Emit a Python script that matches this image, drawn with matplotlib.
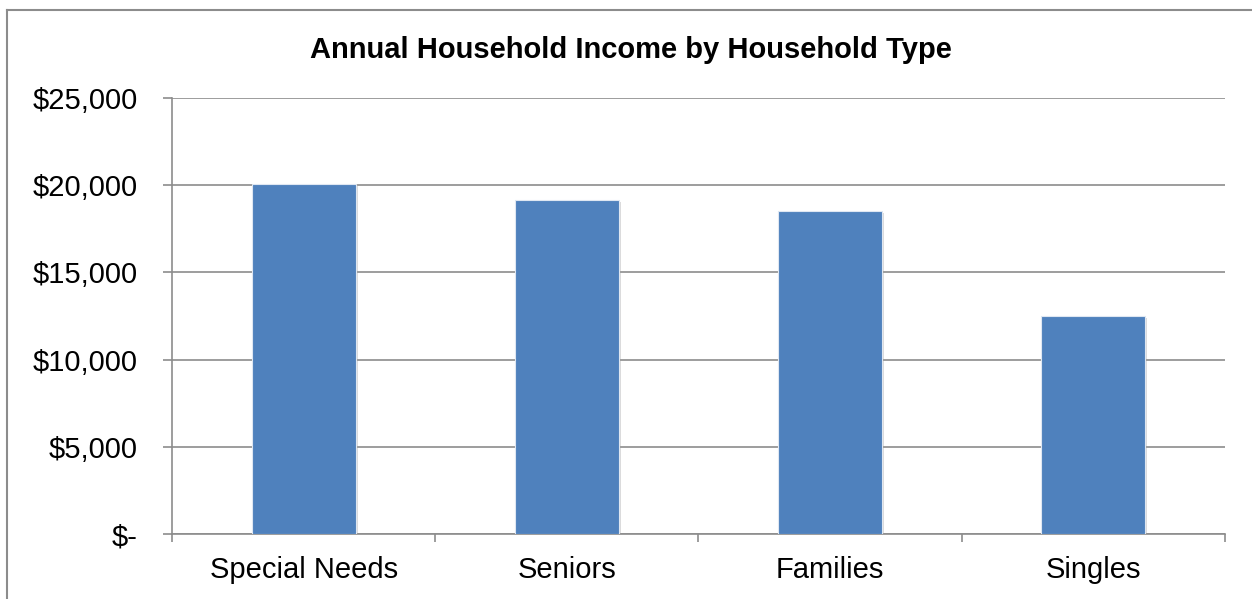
import matplotlib
matplotlib.use("Agg")
import matplotlib.pyplot as plt
import matplotlib.patheffects as pe
from matplotlib.lines import Line2D
from matplotlib.ticker import FuncFormatter
import numpy as np

categories = ["Special Needs", "Seniors", "Families", "Singles"]
income = [20050, 19150, 18520, 12500]
yticks = [0, 5000, 10000, 15000, 20000, 25000]

plt.rcParams['font.family'] = ['Liberation Sans', 'DejaVu Sans']

fig = plt.figure(figsize=(12.52, 5.99), dpi=100)
ax = fig.add_axes([0.1374, 0.1085, 0.9784 - 0.1374, 0.8364 - 0.1085])

x = np.arange(len(categories))
bars = ax.bar(x, income, width=0.395, color="#4F81BD", edgecolor="#dfe7f2",
              linewidth=0.8, zorder=3)
for b in bars:
    b.set_path_effects([pe.SimplePatchShadow(offset=(1.5, -1.5), shadow_rgbFace="#999999", alpha=0.35),
                        pe.Normal()])

ax.set_xlim(-0.5, len(categories) - 0.5)
ax.set_ylim(0, 25000)
ax.set_yticks(yticks)
ax.yaxis.set_major_formatter(FuncFormatter(lambda v, p: "$-" if v == 0 else "${:,.0f}".format(v)))
ax.grid(axis="y", color="#8c8c8c", linewidth=1.2, zorder=0)

ax.set_xticks(x)
ax.set_xticklabels(categories)
ax.set_xticks(np.arange(-0.5, len(categories)), minor=True)
ax.tick_params(axis="x", which="major", length=0, pad=16, labelsize=21)
ax.tick_params(axis="x", which="minor", length=6, width=1.2, color="#8c8c8c", direction="out")
ax.tick_params(axis="y", length=6.5, width=1.2, color="#8c8c8c", pad=18, labelsize=21)

for s in ["top", "right"]:
    ax.spines[s].set_visible(False)
for s in ["left", "bottom"]:
    ax.spines[s].set_color("#8c8c8c")
    ax.spines[s].set_linewidth(1.2)

fig.text(0.504, 1 - 50 / 599, "Annual Household Income by Household Type",
         ha="center", va="center", fontsize=21, fontweight="bold")

# outer chart frame (only top and left visible)
fig.add_artist(Line2D([7 / 1252, 1.0], [1 - 10 / 599, 1 - 10 / 599], transform=fig.transFigure,
                      color="#8c8c8c", linewidth=1.5))
fig.add_artist(Line2D([7 / 1252, 7 / 1252], [1 - 10 / 599, 0], transform=fig.transFigure,
                      color="#8c8c8c", linewidth=1.5))

fig.savefig("out.png", dpi=100)
